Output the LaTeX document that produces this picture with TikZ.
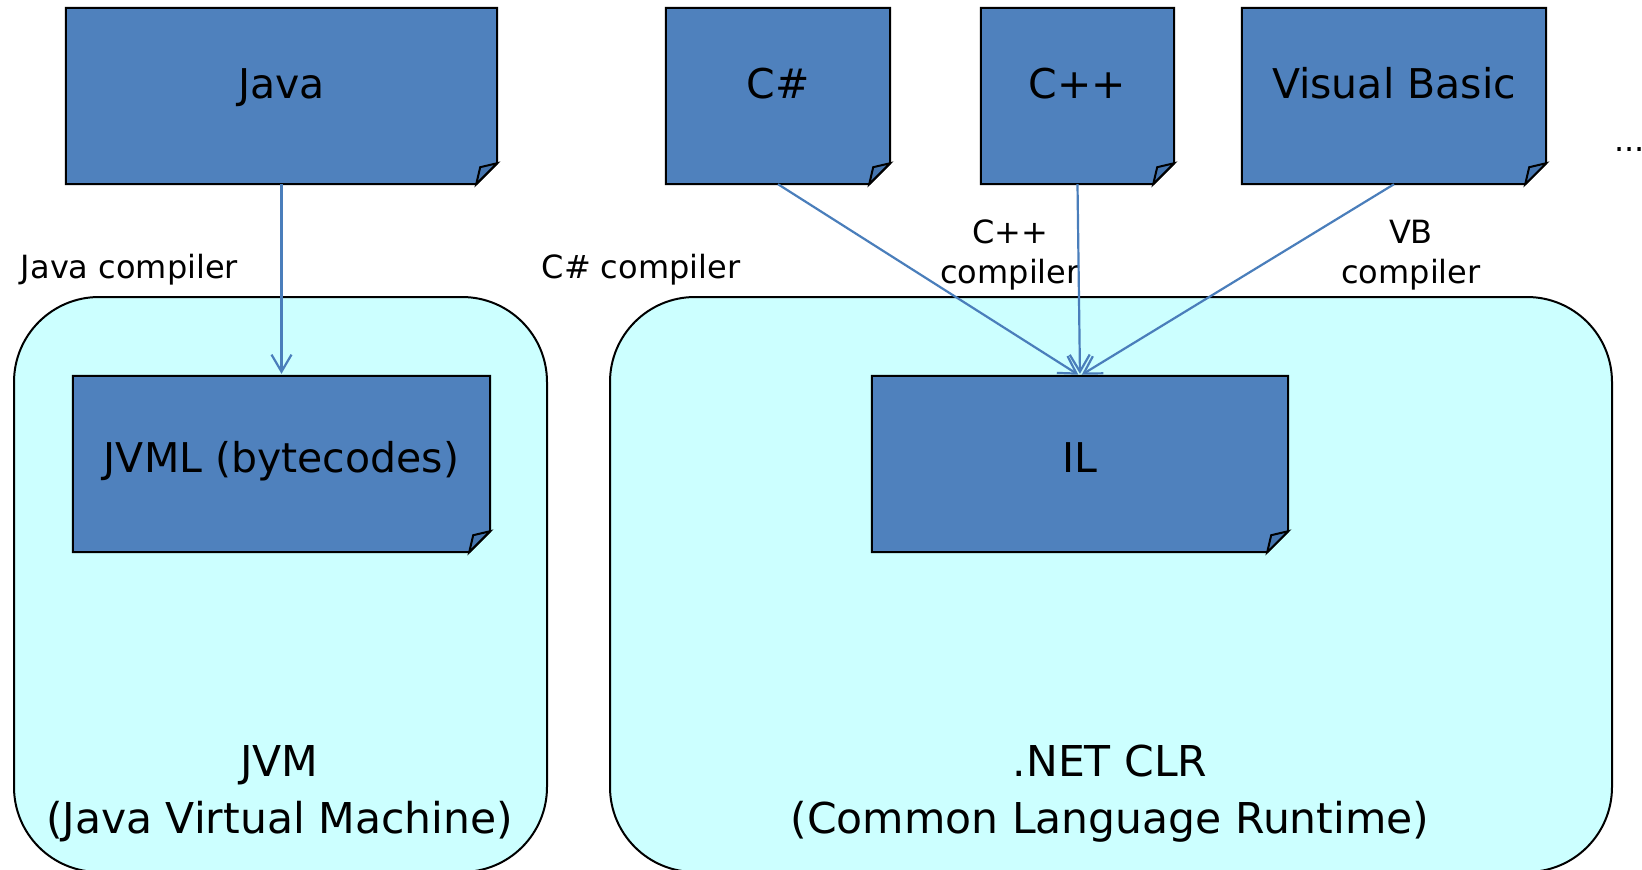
\documentclass[tikz,border=0pt]{standalone}
\usepackage{fontspec}
\setmainfont{DejaVu Sans}
\usetikzlibrary{arrows.meta}
\definecolor{noteblue}{HTML}{4F81BD}
\definecolor{flapblue}{HTML}{4575AF}
\definecolor{vmcyan}{HTML}{CCFFFF}
\definecolor{arrowblue}{HTML}{4A7EBB}
\pgfdeclarelayer{back}
\pgfdeclarelayer{mid}
\pgfsetlayers{back,mid,main}
\begin{document}
\begin{tikzpicture}[x=1pt,y=-1pt,
  vmbox/.style={draw=black,line width=2pt,fill=vmcyan,rounded corners=85pt,inner sep=0pt,anchor=north west},
  notetop/.style={inner sep=0pt,font=\fontsize{41}{49}\selectfont,text height=22pt,text depth=18pt},
  notemid/.style={inner sep=0pt,font=\fontsize{41}{49}\selectfont,text height=30pt,text depth=14pt},
  bigtext/.style={inner sep=0pt,anchor=base,font=\fontsize{42.5}{50}\selectfont},
  smalltext/.style={inner sep=0pt,anchor=base,font=\fontsize{32}{40}\selectfont},
  notebody/.style={draw=black,line width=2pt,fill=noteblue,line join=miter},
  flap/.style={draw=black,line width=2pt,fill=flapblue,line join=miter},
  arr/.style={draw=arrowblue,line width=2.2pt,-{Straight Barb[length=17pt,width=20pt,line width=2.2pt]},shorten >=2pt}]
\useasboundingbox (0,0) rectangle (1642,870);

% runtime boxes
\begin{pgfonlayer}{back}
\node[vmbox,minimum width=533pt,minimum height=575pt] (jvm) at (13,296) {};
\node[vmbox,minimum width=1002pt,minimum height=575pt] (clr) at (609,296) {};
\end{pgfonlayer}

% notes
\node[notetop,minimum width=431pt,minimum height=176pt] (java) at (281.5,96) {Java};
\node[notetop,minimum width=224pt,minimum height=176pt] (cs) at (778,96) {C\#};
\node[notetop,minimum width=193pt,minimum height=176pt] (cpp) at (1077.5,96) {C++};
\node[notetop,minimum width=304pt,minimum height=176pt] (vb) at (1394,96) {Visual Basic};
\node[notemid,minimum width=417pt,minimum height=176pt] (jvml) at (281.5,464) {JVML (bytecodes)};
\node[notemid,minimum width=416pt,minimum height=176pt] (il) at (1080,464) {IL};

\begin{pgfonlayer}{mid}
\foreach \n in {java,cs,cpp,vb,jvml,il}{
  \draw[notebody] (\n.north west) -- (\n.north east) -- ([yshift=21pt]\n.south east)
     -- ([xshift=-21pt]\n.south east) -- (\n.south west) -- cycle;
  \draw[flap] ([xshift=-21pt]\n.south east) -- ([xshift=-17pt,yshift=17pt]\n.south east)
     -- ([yshift=21pt]\n.south east) -- cycle;
}
\end{pgfonlayer}

% runtime labels
\node[bigtext] (jvmname) at (279.5,776) {JVM};
\node[bigtext] (jvmfull) at (279.5,833) {(Java Virtual Machine)};
\node[bigtext] (clrname) at (1110,776) {.NET CLR};
\node[bigtext] (clrfull) at (1110,833) {(Common Language Runtime)};

% compiler labels
\node[smalltext] (javacomp) at (129.5,278) {Java compiler};
\node[smalltext] (cscomp) at (641,278) {C\# compiler};
\node[smalltext] (cppcomp1) at (1010,243) {C++};
\node[smalltext] (cppcomp2) at (1010,283) {compiler};
\node[smalltext] (vbcomp1) at (1411,243) {VB};
\node[smalltext] (vbcomp2) at (1411,283) {compiler};
\node[smalltext,anchor=base west] (dots) at (1614,151) {...};

% arrows
\draw[arr] (java.south) -- (jvml.north);
\draw[arr] (cs.south) -- (il.north);
\draw[arr] (cpp.south) -- (il.north);
\draw[arr] (vb.south) -- (il.north);
\end{tikzpicture}
\end{document}
